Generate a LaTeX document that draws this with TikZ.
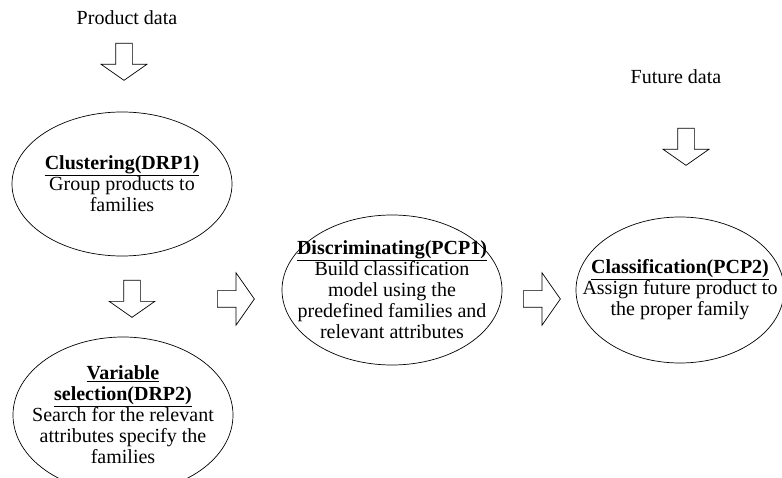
\documentclass[tikz,border=0pt]{standalone}
\usepackage{fontspec}
\setmainfont{Liberation Serif}
\usepackage{tikz}
\usetikzlibrary{shapes.geometric,shapes.arrows,positioning}
\newcommand{\stagehead}[1]{\underline{\textbf{#1}}}

\begin{document}
\begin{tikzpicture}[
      x=1pt, y=-1pt,
      every node/.style = {font=\fontsize{20}{21}\selectfont},
      stage/.style      = {draw, ellipse, line width=0.7pt, inner sep=-45pt,
                           align=center},
      blk/.style        = {draw, single arrow, line width=0.7pt, inner sep=8pt,
                           minimum height=37pt, single arrow tip angle=110,
                           anchor=tail},
      blkdown/.style    = {blk, rotate=-90, single arrow head extend=14.5pt},
      blkright/.style   = {blk, single arrow head extend=18pt},
    ]
    \useasboundingbox (0,0) rectangle (782,478);

    % ---- left column ----
    \node (prod) at (127,18) {Product data};
    \node[blkdown] (inprod) at (124,43) {};

    \node[stage, minimum width=220pt, minimum height=144pt] (clust) at (122,184)
          {\stagehead{Clustering(DRP1)}\\Group products to\\families};

    \node[blkdown] (toclust) at (132,280) {};

    \node[stage, minimum width=220pt, minimum height=156pt] (varsel) at (123,415)
          {\stagehead{Variable}\\\stagehead{selection(DRP2)}\\Search for the relevant\\attributes specify the\\families};

    % ---- middle ----
    \node[blkright] (todisc) at (217,299) {};

    \node[stage, minimum width=220pt, minimum height=150pt] (disc) at (392,290)
          {\stagehead{Discriminating(PCP1)}\\Build classification\\model using the\\predefined families and\\relevant attributes};

    \node[blkright] (toclass) at (523,299) {};

    % ---- right column ----
    \node (fut) at (676,77) {Future data};
    \node[blkdown] (infut) at (686,128) {};

    \node[stage, minimum width=208pt, minimum height=146pt] (class) at (680,290)
          {\stagehead{Classification(PCP2)}\\Assign future product to\\the proper family};
  \end{tikzpicture}
\end{document}
